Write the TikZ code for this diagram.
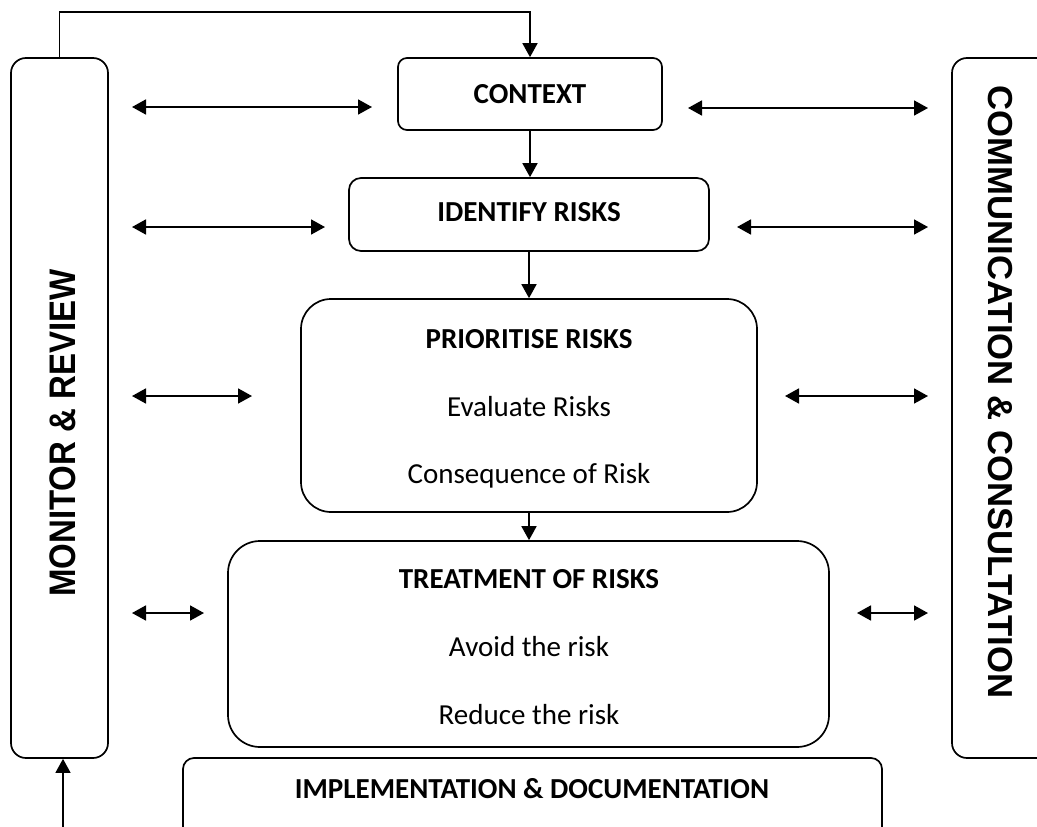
\documentclass[tikz,border=0pt]{standalone}
\usepackage{fontspec}
\setmainfont{Carlito}
\newfontfamily\sidefont{Liberation Sans}
\usetikzlibrary{arrows.meta}
\begin{document}
\begin{tikzpicture}[x=1pt,y=-1pt,
  box/.style={draw,line width=1.7pt,inner sep=0pt},
  boxtxt/.style={font=\fontsize{29}{34}\selectfont,anchor=base,inner sep=0pt},
  sidetxt/.style={font=\sidefont\bfseries\fontsize{33}{38}\selectfont,inner sep=0pt},
  arr/.style={line width=1.8pt,-{Triangle[length=14pt,width=15pt]}},
  darr/.style={line width=1.8pt,{Triangle[length=14pt,width=15pt]}-{Triangle[length=14pt,width=15pt]}}]
\useasboundingbox (0,0) rectangle (1037,827);
\clip (0,0) rectangle (1037,827);
% side boxes
\node[box,rounded corners=15pt,minimum width=97pt,minimum height=700pt] (monitor) at (59.5,408) {};
\node[box,rounded corners=15pt,minimum width=120pt,minimum height=700pt] (comm) at (1012,408) {};
\node[sidetxt,rotate=90] (montxt) at (63,433) {\scalebox{1}[1.12]{MONITOR \& REVIEW}};
\node[sidetxt,font=\sidefont\bfseries\fontsize{34.7}{40}\selectfont,rotate=-90] (commtxt) at (1000,392) {COMMUNICATION \& CONSULTATION};
% central boxes
\node[box,rounded corners=9pt,minimum width=264pt,minimum height=72pt] (context) at (530,94) {};
\node[boxtxt,font=\fontsize{29}{34}\selectfont\bfseries] (contexttxt) at (530,103) {CONTEXT};
\node[box,rounded corners=12pt,minimum width=360pt,minimum height=73pt] (identify) at (529,214.5) {};
\node[boxtxt,font=\fontsize{29}{34}\selectfont\bfseries] (identifytxt) at (529,221) {IDENTIFY RISKS};
\node[box,rounded corners=30pt,minimum width=456pt,minimum height=213pt] (prior) at (529,405.5) {};
\node[boxtxt,font=\fontsize{29}{34}\selectfont\bfseries] (priort1) at (529,348) {PRIORITISE RISKS};
\node[boxtxt] (priort2) at (529,416) {Evaluate Risks};
\node[boxtxt] (priort3) at (529,483) {Consequence of Risk};
\node[box,rounded corners=32pt,minimum width=601pt,minimum height=206pt] (treat) at (528.5,644) {};
\node[boxtxt,font=\fontsize{29}{34}\selectfont\bfseries] (treatt1) at (529,588) {TREATMENT OF RISKS};
\node[boxtxt] (treatt2) at (529,656) {Avoid the risk};
\node[boxtxt] (treatt3) at (529,724) {Reduce the risk};
\node[box,rounded corners=11pt,minimum width=699pt,minimum height=110pt] (impl) at (532.5,813) {};
\node[boxtxt,font=\fontsize{29}{34}\selectfont\bfseries] (implt) at (532,798) {IMPLEMENTATION \& DOCUMENTATION};
% vertical flow
\coordinate (topleft) at (59.5,12);
\draw[arr] (monitor.north) -- (topleft) -| (context.north);
\draw[arr] (context.south) -- (context.south |- identify.north);
\draw[arr] (identify.south) -- (identify.south |- prior.north);
\draw[arr] (prior.south) -- (prior.south |- treat.north);
\coordinate (botstart) at (63,830);
\draw[arr,line width=1.4pt] (botstart) -- (botstart |- monitor.south);
% side arrows
\coordinate (l1a) at (132,107); \coordinate (l1b) at (372,107);
\coordinate (l2a) at (132,227); \coordinate (l2b) at (325,227);
\coordinate (l3a) at (132,396); \coordinate (l3b) at (252,396);
\coordinate (l4a) at (132,613); \coordinate (l4b) at (204,613);
\coordinate (r1a) at (688,108); \coordinate (r1b) at (928,108);
\coordinate (r2a) at (737,227); \coordinate (r2b) at (928,227);
\coordinate (r3a) at (785,396); \coordinate (r3b) at (928,396);
\coordinate (r4a) at (857,613); \coordinate (r4b) at (928,613);
\foreach \a/\b in {l1a/l1b,l2a/l2b,l3a/l3b,l4a/l4b,r1a/r1b,r2a/r2b,r3a/r3b,r4a/r4b}
  \draw[darr] (\a) -- (\b);
\end{tikzpicture}
\end{document}
